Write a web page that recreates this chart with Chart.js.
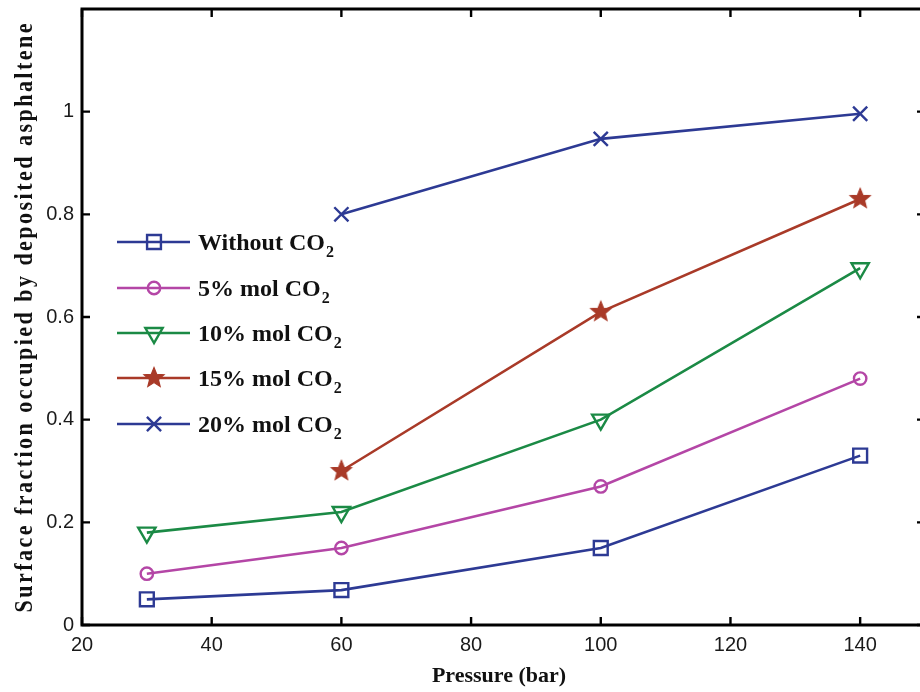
<!DOCTYPE html>
<html><head><meta charset="utf-8">
<script src="https://cdn.jsdelivr.net/npm/chart.js@4"></script>
<style>html,body{margin:0;padding:0;overflow:hidden;background:#fff}</style>
</head><body>
<canvas id="c" width="930" height="692"></canvas>
<script>
// ---- data ----
const pressure = [30, 60, 100, 140];
const withoutCO2 = [0.05, 0.068, 0.15, 0.33];
const mol5CO2 = [0.10, 0.15, 0.27, 0.48];
const mol10CO2 = [0.18, 0.22, 0.40, 0.695];
const mol15CO2 = [null, 0.30, 0.61, 0.83];
const mol20CO2 = [null, 0.80, 0.947, 0.996];
const seriesLabels = ['Without CO_2', '5% mol CO_2', '10% mol CO_2', '15% mol CO_2', '20% mol CO_2'];
const xTicks = [20, 40, 60, 80, 100, 120, 140];
const yTicks = [0, 0.2, 0.4, 0.6, 0.8, 1];
const xTitle = 'Pressure (bar)';
const yTitle = 'Surface fraction occupied by deposited asphaltene';

// ---- styles ----
const BLUE = '#2d3a94', MAG = '#b446a6', GREEN = '#1b8a45', RED = '#a93a28';

function starCanvas(color){
  const c = document.createElement('canvas');
  c.width = 26; c.height = 26;
  const g = c.getContext('2d');
  g.beginPath();
  const R = 10.5, r = 4.6;
  for (let i = 0; i < 10; i++){
    const a = -Math.PI/2 + i*Math.PI/5;
    const rr = i % 2 ? r : R;
    const px = 13 + rr*Math.cos(a), py = 13 + rr*Math.sin(a);
    i ? g.lineTo(px, py) : g.moveTo(px, py);
  }
  g.closePath();
  g.fillStyle = color; g.strokeStyle = color; g.lineWidth = 1.2;
  g.fill(); g.stroke();
  return c;
}
const star = starCanvas(RED);

function toPts(vals){
  return pressure.map((p,i)=>({x:p, y:vals[i]})).filter(d=>d.y!==null);
}
const seriesVals = [withoutCO2, mol5CO2, mol10CO2, mol15CO2, mol20CO2];
const styles = [
  {color: BLUE, pointStyle: 'rect', radius: 9.8, rotation: 0},
  {color: MAG, pointStyle: 'circle', radius: 6.2, rotation: 0},
  {color: GREEN, pointStyle: 'triangle', radius: 10, rotation: 180},
  {color: RED, pointStyle: star, radius: 10, rotation: 0},
  {color: BLUE, pointStyle: 'crossRot', radius: 10, rotation: 0}
];

const datasets = seriesVals.map((v,i)=>({
  label: seriesLabels[i].replace('_',''),
  data: toPts(v),
  borderColor: styles[i].color,
  backgroundColor: 'rgba(0,0,0,0)',
  borderWidth: 2.6,
  pointStyle: styles[i].pointStyle,
  pointRadius: styles[i].radius,
  pointHoverRadius: styles[i].radius,
  pointRotation: styles[i].rotation,
  pointBorderWidth: 2.4,
  pointBorderColor: styles[i].color,
  pointBackgroundColor: 'rgba(0,0,0,0)',
  tension: 0,
  clip: false
}));

function drawSubText(ctx, txt, x, y, font, subFont){
  const parts = txt.split('_');
  ctx.font = font;
  ctx.fillText(parts[0], x, y);
  const w = ctx.measureText(parts[0]).width;
  if (parts[1]){
    ctx.font = subFont;
    ctx.fillText(parts[1], x + w + 1, y + 7);
  }
}

const deco = {
  id: 'deco',
  beforeDatasetsDraw(chart){
    const {ctx, chartArea: a, scales} = chart;
    ctx.save();
    ctx.strokeStyle = '#000';
    ctx.lineWidth = 3;
    ctx.strokeRect(a.left, a.top, a.right - a.left, a.bottom - a.top);
    ctx.lineWidth = 2.4;
    const L = 8;
    ctx.beginPath();
    xTicks.forEach(v=>{
      const px = scales.x.getPixelForValue(v);
      ctx.moveTo(px, a.bottom); ctx.lineTo(px, a.bottom - L);
      ctx.moveTo(px, a.top); ctx.lineTo(px, a.top + L);
    });
    yTicks.forEach(v=>{
      const py = scales.y.getPixelForValue(v);
      ctx.moveTo(a.left, py); ctx.lineTo(a.left + L, py);
      ctx.moveTo(a.right, py); ctx.lineTo(a.right - L, py);
    });
    ctx.stroke();
    ctx.restore();
  },
  afterDatasetsDraw(chart){
    const {ctx} = chart;
    ctx.save();
    // legend
    const rows = [242, 288, 333, 378, 424];
    rows.forEach((ry,i)=>{
      const st = styles[i];
      ctx.strokeStyle = st.color;
      ctx.lineWidth = 2.6;
      ctx.beginPath(); ctx.moveTo(117, ry); ctx.lineTo(190, ry); ctx.stroke();
      ctx.fillStyle = 'rgba(0,0,0,0)';
      ctx.lineWidth = 2.4;
      Chart.helpers.drawPoint(ctx, {pointStyle: st.pointStyle, radius: st.radius, rotation: st.rotation, borderWidth: 2.4}, 154, ry);
      ctx.fillStyle = '#111';
      ctx.textAlign = 'left';
      ctx.textBaseline = 'alphabetic';
      drawSubText(ctx, seriesLabels[i], 198, ry + 8, 'bold 24px "Liberation Serif"', 'bold 16px "Liberation Serif"');
    });
    // x title
    ctx.fillStyle = '#111';
    ctx.font = 'bold 22px "Liberation Serif"';
    ctx.textAlign = 'center';
    ctx.textBaseline = 'alphabetic';
    ctx.fillText(xTitle, 499, 682);
    // y title
    ctx.font = 'bold 22px "Liberation Serif"';
    ctx.letterSpacing = '0px';
    const w0 = ctx.measureText(yTitle).width;
    const target = 589;
    const ls = (target - w0) / (yTitle.length - 1);
    ctx.letterSpacing = ls.toFixed(2) + 'px';
    ctx.translate(32, 318);
    ctx.rotate(-Math.PI/2);
    ctx.scale(1, 1.18);
    ctx.textAlign = 'left';
    ctx.fillText(yTitle, -target/2, 0);
    ctx.restore();
  }
};

new Chart(document.getElementById('c'), {
  type: 'line',
  data: {datasets},
  options: {
    responsive: false,
    animation: false,
    events: [],
    layout: {autoPadding: false, padding: {left: 0, top: 9, right: 5, bottom: 0}},
    plugins: {legend: {display: false}, tooltip: {enabled: false}},
    scales: {
      x: {
        type: 'linear', min: 20, max: 150,
        afterBuildTicks: s => { s.ticks = xTicks.map(v=>({value:v})); },
        afterFit: s => { s.height = 67; s.paddingLeft = 0; s.paddingRight = 0; },
        grid: {display: false, drawTicks: false},
        border: {display: false},
        ticks: {padding: 8, color: '#1a1a1a', font: {family: '"Liberation Sans", Arial', size: 20}, maxRotation: 0, autoSkip: false, callback: v => String(v)}
      },
      y: {
        type: 'linear', min: 0, max: 1.2,
        afterBuildTicks: s => { s.ticks = yTicks.map(v=>({value:v})); },
        afterFit: s => { s.width = 82; s.paddingTop = 0; s.paddingBottom = 0; },
        grid: {display: false, drawTicks: false},
        border: {display: false},
        ticks: {padding: 8, color: '#1a1a1a', font: {family: '"Liberation Sans", Arial', size: 20}, autoSkip: false, callback: v => String(v)}
      }
    }
  },
  plugins: [deco]
});
</script>
</body></html>
